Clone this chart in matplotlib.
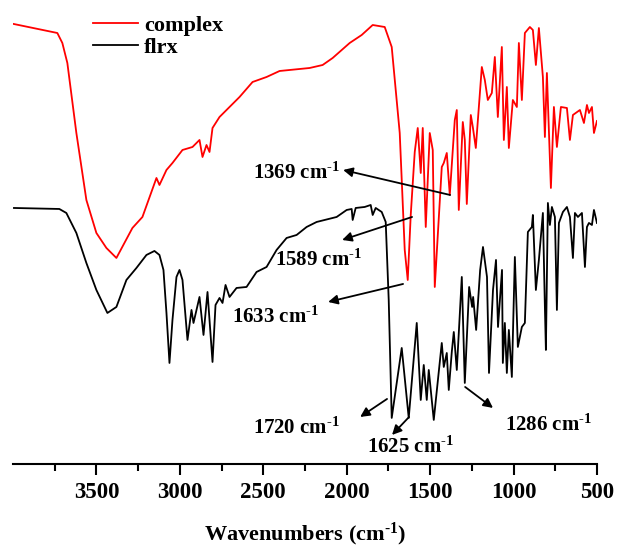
import matplotlib.pyplot as plt
import numpy as np

plt.rcParams['font.family'] = 'Liberation Serif'
plt.rcParams['font.weight'] = 'bold'
plt.rcParams['mathtext.fontset'] = 'custom'
plt.rcParams['mathtext.rm'] = 'Liberation Serif:bold'
plt.rcParams['mathtext.bf'] = 'Liberation Serif:bold'
plt.rcParams['mathtext.default'] = 'rm'

# complex spectrum (wavenumber, transmittance a.u.)
complex_wn = [3995, 3734, 3704, 3674, 3620, 3560, 3500, 3440, 3380, 3332,
              3284, 3224, 3140, 3122, 3080, 3044, 2984, 2924, 2882, 2864,
              2840, 2822, 2804, 2762, 2702, 2642, 2564, 2480, 2402, 2342,
              2222, 2144, 2084, 1982, 1910, 1844, 1772, 1730, 1682, 1652,
              1634, 1616, 1592, 1574, 1556, 1544, 1526, 1502, 1484, 1472,
              1430, 1418, 1400, 1382, 1352, 1340, 1328, 1304, 1292, 1280,
              1256, 1244, 1226, 1190, 1172, 1154, 1130, 1112, 1094, 1070,
              1058, 1040, 1028, 1004, 980, 968, 950, 932, 902, 884,
              866, 848, 824, 812, 800, 776, 758, 740, 716, 680,
              662, 644, 602, 578, 560, 548, 530, 518, 500]
complex_T = [440, 431, 421, 401, 331, 264, 231, 216, 206, 221,
             236, 247, 286, 279, 294, 301, 314, 317, 324, 307,
             319, 312, 336, 347, 357, 367, 382, 387, 393, 394,
             396, 399, 406, 421, 429, 439, 437, 417, 331, 214,
             184, 249, 312, 336, 291, 336, 237, 331, 314, 177,
             297, 301, 311, 269, 344, 354, 254, 342, 324, 260,
             349, 337, 316, 397, 384, 364, 371, 407, 347, 417,
             324, 377, 316, 364, 357, 421, 364, 431, 437, 434,
             399, 436, 387, 327, 391, 276, 357, 317, 357, 356,
             324, 349, 354, 341, 359, 351, 357, 331, 343]

# flrx spectrum
flrx_wn = [3994, 3722, 3680, 3620, 3560, 3500, 3434, 3380, 3320, 3260,
           3200, 3152, 3122, 3098, 3080, 3062, 3044, 3020, 3002, 2984,
           2954, 2930, 2918, 2882, 2858, 2834, 2804, 2786, 2762, 2744,
           2726, 2702, 2660, 2600, 2540, 2480, 2420, 2360, 2300, 2240,
           2180, 2060, 2000, 1970, 1964, 1946, 1892, 1856, 1844, 1826,
           1790, 1766, 1748, 1730,
           1670, 1628, 1580, 1556, 1538, 1520, 1508, 1478, 1430, 1418,
           1400, 1388, 1370, 1358, 1340, 1328, 1310, 1292, 1266, 1248,
           1242, 1224, 1200, 1183, 1159, 1147, 1123, 1105, 1093, 1069,
           1064, 1052, 1040, 1028, 1010, 992, 974, 950, 932, 914,
           890, 884, 866, 848, 824, 812, 806, 794, 782, 770,
           752, 740, 728, 704, 680, 662, 644, 632, 614, 590,
           572, 560, 548, 530, 518, 500]
flrx_T = [256, 255, 251, 231, 201, 174, 151, 157, 184, 196,
          209, 213, 209, 194, 151, 101, 144, 187, 194, 184,
          124, 154, 141, 167, 129, 172, 102, 159, 166, 161,
          179, 167, 176, 177, 192, 197, 214, 226, 229, 237,
          242, 247, 254, 255, 244, 256, 257, 259, 249, 256,
          252, 242, 164, 46,
          116, 46, 141, 64, 99, 64, 94, 44, 121, 97,
          111, 74, 112, 132, 94, 131, 187, 81, 177, 157,
          167, 134, 194, 217, 187, 91, 174, 204, 137, 194,
          101, 141, 91, 134, 87, 207, 117, 137, 141, 232,
          237, 249, 174, 204, 251, 157, 114, 261, 239, 257,
          247, 154, 241, 252, 257, 247, 206, 251, 247, 251,
          197, 237, 241, 239, 254, 241]

# peak labels: text, text position, arrow tail, arrow head
peak_labels = ['1369', '1589', '1633', '1720', '1625', '1286']
text_pos = [(2560, 291), (2428, 204), (2686, 147), (2560, 36), (1877, 17), (1051, 39)]
arrow_tail = [(1380, 269), (1608, 247), (1662, 180), (1758, 65), (1626, 47), (1290, 77)]
arrow_head = [(2021, 294), (2027, 224), (2111, 162), (1919, 47), (1728, 29), (1123, 56)]

sup = r'$^{\text{-1}}$'

fig = plt.figure(figsize=(6.17, 5.51), dpi=100)
ax = fig.add_axes([0.021, 0.158, 0.9465, 0.842])

ax.plot(complex_wn, complex_T, color='#ff0000', lw=1.3, label='complex')
ax.plot(flrx_wn, flrx_T, color='black', lw=1.3, label='flrx')

for lab, tp, tail, head in zip(peak_labels, text_pos, arrow_tail, arrow_head):
    ax.annotate('', xy=head, xytext=tail,
                arrowprops=dict(arrowstyle='-|>', color='black', lw=1.3,
                                mutation_scale=14, shrinkA=0, shrinkB=0))
    ax.text(tp[0], tp[1], lab + ' cm' + sup, fontsize=15, fontweight='bold',
            ha='left', va='center')

ax.set_xlim(4000, 500)
ax.set_ylim(0, 464)
ax.set_xticks([3500, 3000, 2500, 2000, 1500, 1000, 500])
ax.set_xticks(np.arange(3750, 500, -500), minor=True)
ax.tick_params(axis='x', which='major', length=8, width=1.5, pad=5, labelsize=16.5)
ax.tick_params(axis='x', which='minor', length=5, width=1.5)
ax.set_yticks([])
for s in ['left', 'right', 'top']:
    ax.spines[s].set_visible(False)
ax.spines['bottom'].set_linewidth(1.5)
ax.set_xlabel('Wavenumbers (cm' + sup + ')', fontsize=16, fontweight='bold', labelpad=13)

ax.legend(loc='upper left', bbox_to_anchor=(0.103, 1.01), frameon=False,
          handlelength=2.0, handletextpad=0.3, labelspacing=0.05,
          prop={'weight': 'bold', 'size': 16})

fig.savefig('out.png', dpi=100)
